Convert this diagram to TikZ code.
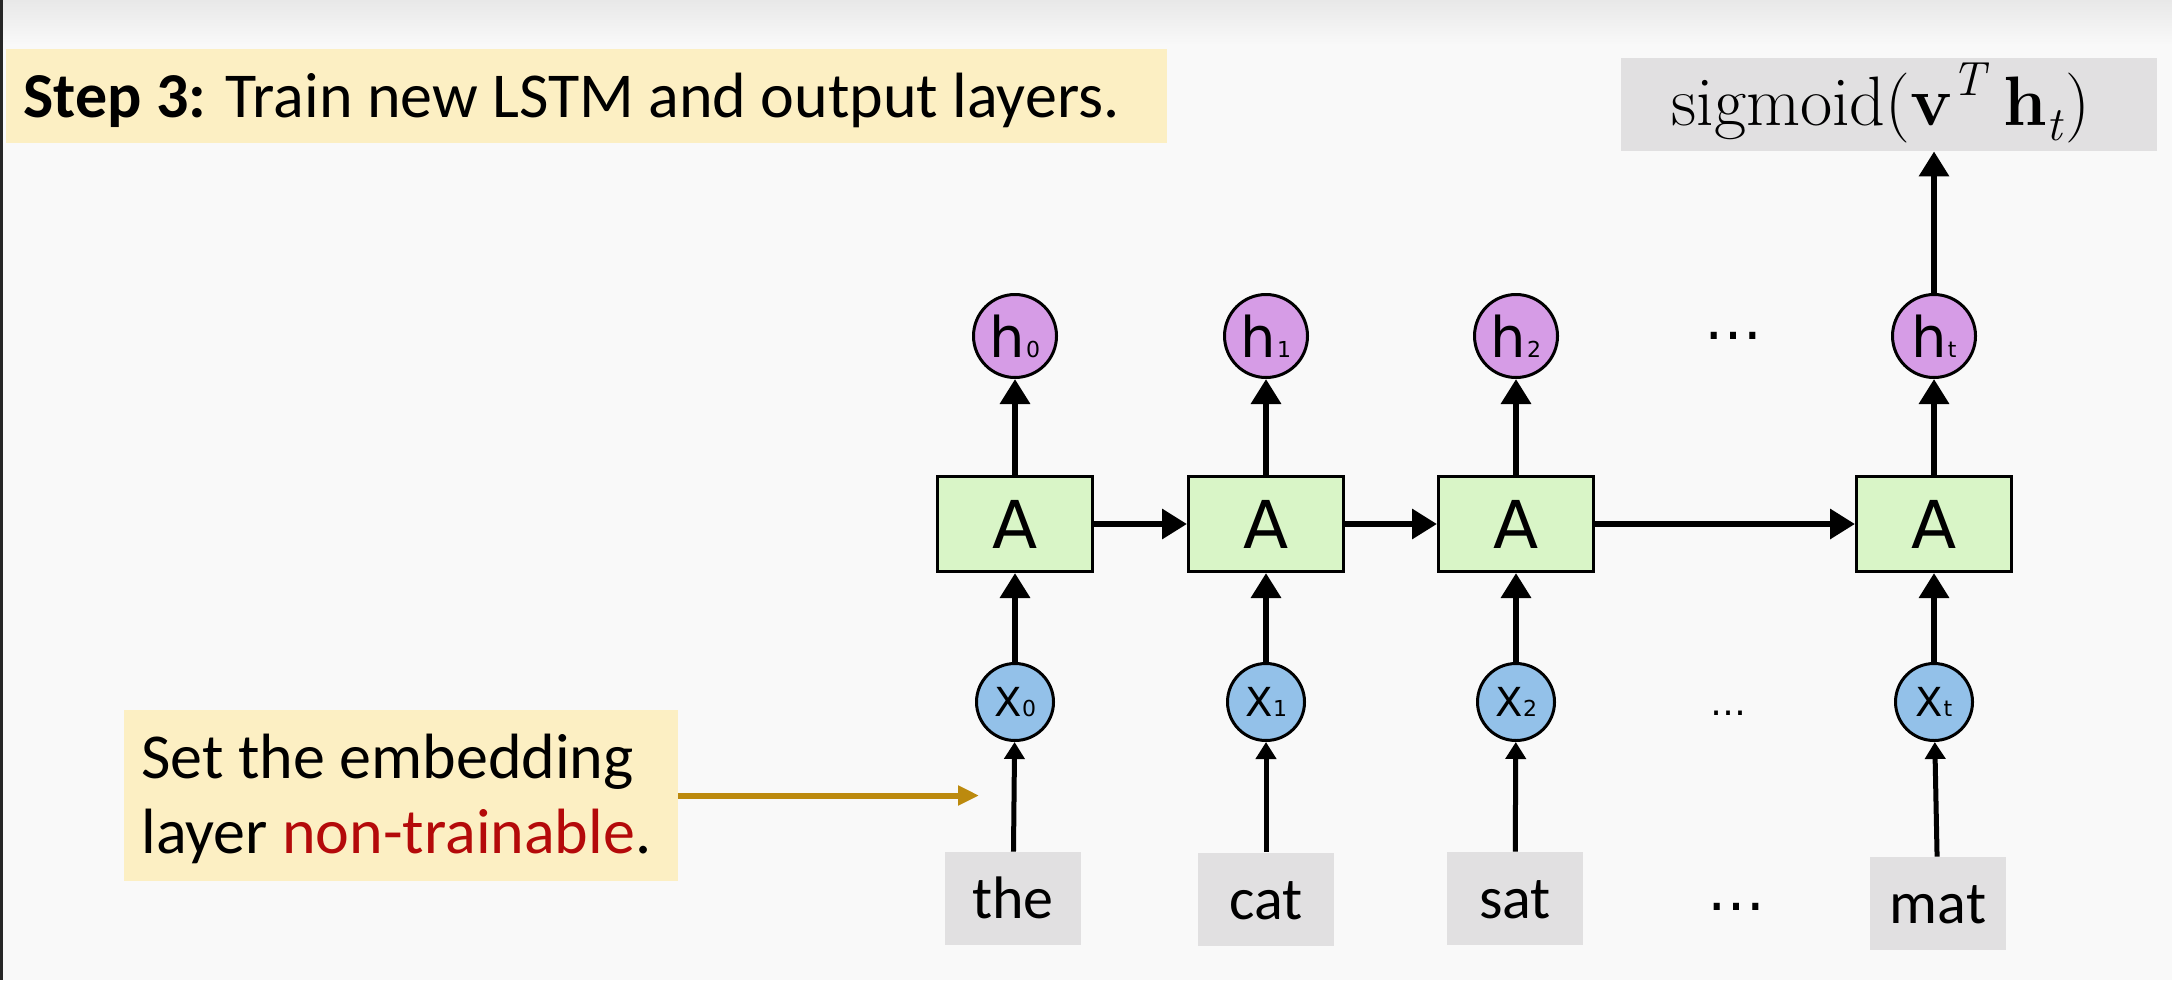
\documentclass[tikz,border=0pt]{standalone}
\usepackage{fontspec}
\setmainfont{Carlito}
\newfontfamily\dvs{DejaVu Sans}
\newfontfamily\lmr{Latin Modern Roman}
\usetikzlibrary{arrows.meta,shapes.geometric}
\definecolor{bgc}{HTML}{F9F9F9}
\definecolor{topc}{HTML}{E8E8E8}
\definecolor{titlec}{HTML}{FCEFC3}
\definecolor{grayc}{HTML}{E1E0E1}
\definecolor{hcol}{HTML}{D69CE6}
\definecolor{acol}{HTML}{D9F5C7}
\definecolor{xcol}{HTML}{93C1E9}
\definecolor{goldc}{HTML}{BC8A0E}
\definecolor{redc}{HTML}{B40A0A}
\newcommand\sublab[2]{#1\kern0.3pt{\fontsize{11}{11}\selectfont #2}}
\newcommand\supit[1]{\raisebox{0.42em}{\fontsize{24}{24}\selectfont\itshape #1}}
\newcommand\subit[1]{\raisebox{-0.22em}{\fontsize{24}{24}\selectfont\itshape #1}}
\begin{document}
\begin{tikzpicture}[x=0.5pt,y=-0.5pt,
  hnode/.style={ellipse,draw=black,line width=1.5pt,fill=hcol,minimum width=41.5pt,minimum height=41.5pt,inner sep=0pt,font=\dvs\fontsize{28}{28}\selectfont},
  xnode/.style={ellipse,draw=black,line width=1.5pt,fill=xcol,minimum width=38.5pt,minimum height=38.5pt,inner sep=0pt,font=\dvs\fontsize{20}{20}\selectfont},
  abox/.style={rectangle,draw=black,line width=1.5pt,fill=acol,minimum width=77.5pt,minimum height=47.5pt,inner sep=0pt,font=\dvs\fontsize{33}{33}\selectfont},
  wordbox/.style={rectangle,fill=grayc,minimum width=68pt,minimum height=46.5pt,inner sep=0pt,text height=20pt,text depth=0pt,font=\fontsize{30}{30}\selectfont},
  bigarrow/.style={line width=3.25pt,-{Triangle[length=12.5pt,width=14.5pt]}},
  smallarrow/.style={line width=2.5pt,-{Triangle[length=8.5pt,width=10pt]}},
  goldarrow/.style={draw=goldc,line width=3pt,-{Triangle[length=10.5pt,width=9.5pt]}},
  dotsnode/.style={inner sep=0pt,font=\dvs\fontsize{29}{29}\selectfont}
]
\useasboundingbox (0,0) rectangle (2172,980);
\fill[bgc] (0,0) rectangle (2172,980);
\shade[top color=topc,bottom color=bgc] (0,0) rectangle (2172,45);
\fill[black!85] (0,0) rectangle (3,980);

% title
\node[fill=titlec,minimum width=580.5pt,minimum height=47pt,inner sep=0pt] (titlebox) at (586.5,96) {};
\node[anchor=base west,inner sep=0pt,font=\fontsize{32}{32}\selectfont] (titletext) at (23,117) {\textbf{Step 3:} Train new LSTM and output layers.};

% sigmoid
\node[fill=grayc,minimum width=268pt,minimum height=46.5pt,inner sep=0pt] (sig) at (1889,104.5) {};
\node[anchor=base,inner sep=0pt,font=\lmr\fontsize{35}{35}\selectfont] (sigtext) at (1881,125) {sigmoid(\textbf{v}\supit{T}\hspace{0.25em}\textbf{h}\subit{t}\kern0.05em)};

% hidden
\node[hnode] (h0) at (1015,336) {\sublab{h}{0}};
\node[hnode] (h1) at (1266,336) {\sublab{h}{1}};
\node[hnode] (h2) at (1516,336) {\sublab{h}{2}};
\node[hnode] (ht) at (1934,336) {\sublab{h}{t}};
\node[dotsnode] (hdots) at (1733,336) {…};

% cells
\node[abox] (A0) at (1015,524) {A};
\node[abox] (A1) at (1266,524) {A};
\node[abox] (A2) at (1516,524) {A};
\node[abox] (At) at (1934,524) {A};

% inputs
\node[xnode] (x0) at (1015,702) {\sublab{X}{0}};
\node[xnode] (x1) at (1266,702) {\sublab{X}{1}};
\node[xnode] (x2) at (1516,702) {\sublab{X}{2}};
\node[xnode] (xt) at (1934,702) {\sublab{X}{t}};
\node[dotsnode,font=\dvs\fontsize{18}{18}\selectfont] (xdots) at (1728,713) {…};

% words
\node[wordbox] (w0) at (1013,898.5) {the};
\node[wordbox] (w1) at (1266,899) {cat};
\node[wordbox] (w2) at (1515,898.5) {sat};
\node[wordbox] (wt) at (1938,903.5) {mat};
\node[dotsnode] (wdots) at (1736,907) {…};

% annotation
\node[fill=titlec,minimum width=277pt,minimum height=85.5pt,inner sep=0pt] (ann) at (401,795.5) {};
\node[anchor=base west,inner sep=0pt,font=\fontsize{32}{32}\selectfont] (ann1) at (141,778) {Set the embedding};
\node[anchor=base west,inner sep=0pt,font=\fontsize{32}{32}\selectfont] (ann2) at (141,853) {layer \textcolor{redc}{non-trainable}.};
\coordinate (goldend) at (979,795.5);
\draw[goldarrow] (ann.east) -- (goldend);

% connectors
\foreach \i in {0,1,2,t}{
  \draw[smallarrow] (w\i) -- (x\i);
  \draw[bigarrow] (x\i) -- (A\i);
  \draw[bigarrow] (A\i) -- (h\i);
}
\draw[bigarrow] (A0) -- (A1);
\draw[bigarrow] (A1) -- (A2);
\draw[bigarrow] (A2) -- (At);
\draw[bigarrow] (ht) -- (ht |- sig.south);
\end{tikzpicture}
\end{document}
